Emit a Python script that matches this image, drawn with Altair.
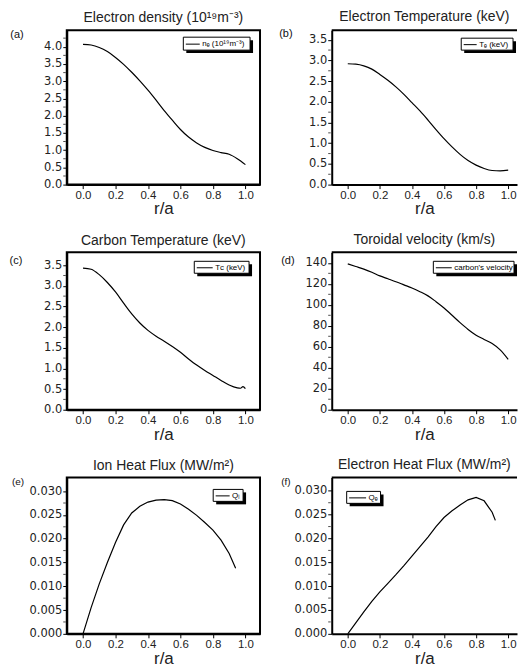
import math
import altair as alt
import pandas as pd

# ---- data ----
r_prof = [0.0, 0.05, 0.1, 0.15, 0.2, 0.25, 0.3, 0.35, 0.4, 0.45, 0.5,
          0.55, 0.6, 0.65, 0.7, 0.75, 0.8, 0.85, 0.9, 0.95, 1.0]
n_e = [4.07, 4.05, 3.98, 3.86, 3.69, 3.49, 3.26, 3.01, 2.74, 2.45, 2.15,
       1.87, 1.60, 1.38, 1.21, 1.08, 0.99, 0.93, 0.88, 0.75, 0.58]
T_e = [2.92, 2.91, 2.87, 2.79, 2.66, 2.52, 2.36, 2.18, 1.98, 1.78, 1.56,
       1.33, 1.11, 0.91, 0.73, 0.58, 0.47, 0.39, 0.34, 0.33, 0.35]

r_tc = [0.0, 0.05, 0.1, 0.15, 0.2, 0.25, 0.3, 0.35, 0.4, 0.45, 0.5,
        0.55, 0.6, 0.65, 0.7, 0.75, 0.8, 0.85, 0.9, 0.95, 0.97, 0.985, 1.0]
T_c = [3.43, 3.40, 3.27, 3.08, 2.85, 2.58, 2.32, 2.10, 1.92, 1.78, 1.66,
       1.53, 1.39, 1.23, 1.08, 0.95, 0.83, 0.71, 0.60, 0.53, 0.52, 0.56, 0.51]

v_tor = [139, 136.5, 134, 131, 127.6, 124.8, 122, 119, 116, 112.5, 108.5,
         103, 97, 90, 83, 76.5, 71, 67, 63, 57, 48]

r_qi = [0.0, 0.05, 0.1, 0.15, 0.2, 0.25, 0.3, 0.35, 0.4, 0.45, 0.5,
        0.55, 0.6, 0.65, 0.7, 0.75, 0.8, 0.85, 0.9, 0.94]
Q_i = [0.0, 0.0055, 0.0105, 0.0150, 0.0192, 0.0229, 0.0254, 0.0268, 0.0277, 0.0281, 0.0282,
       0.0280, 0.0273, 0.0262, 0.0249, 0.0234, 0.0218, 0.0197, 0.0169, 0.0138]

r_qe = [0.0, 0.05, 0.1, 0.15, 0.2, 0.25, 0.3, 0.35, 0.4, 0.45, 0.5,
        0.55, 0.6, 0.65, 0.7, 0.75, 0.8, 0.85, 0.9, 0.92]
Q_e = [0.0, 0.0023, 0.0046, 0.0068, 0.0088, 0.0106, 0.0124, 0.0143, 0.0163, 0.0183, 0.0203,
       0.0225, 0.0244, 0.0258, 0.0270, 0.0281, 0.0286, 0.0279, 0.0255, 0.0238]

x_ticks = [0.0, 0.2, 0.4, 0.6, 0.8, 1.0]
y_ticks_a = [0.0, 0.5, 1.0, 1.5, 2.0, 2.5, 3.0, 3.5, 4.0]
y_minor_a = [0.25, 0.75, 1.25, 1.75, 2.25, 2.75, 3.25, 3.75, 4.25]
y_ticks_bc = [0.0, 0.5, 1.0, 1.5, 2.0, 2.5, 3.0, 3.5]
y_minor_bc = [0.25, 0.75, 1.25, 1.75, 2.25, 2.75, 3.25]
y_ticks_d = [0, 20, 40, 60, 80, 100, 120, 140]
y_minor_d = [10, 30, 50, 70, 90, 110, 130]
y_ticks_ef = [0.0, 0.005, 0.010, 0.015, 0.020, 0.025, 0.030]
y_minor_ef = [0.0025, 0.0075, 0.0125, 0.0175, 0.0225, 0.0275]

LEFT_W, RIGHT_W = 194, 186
LEFT_X, RIGHT_X = [-0.1, 1.09], [-0.1, 1.055]


def panel(r, vals, name, title, ydom, yticks, yminor, yfmt, xdom, width, height,
          tag, tag_xy, tag_size, box, sym_size, right, interp):
    df = pd.DataFrame({"r": r, "v": vals, "series": [name] * len(r)})
    bx, by, bw, bh = box
    sym_len = math.sqrt(sym_size)
    yscale = alt.Scale(domain=ydom, nice=False, zero=False)
    yaxis = alt.Axis(values=yticks, format=yfmt, labelFlush=False)
    line = alt.Chart(df).mark_line(strokeWidth=1.2, clip=True, interpolate=interp).encode(
        x=alt.X("r:Q", title="r/a",
                scale=alt.Scale(domain=xdom, nice=False, zero=False),
                axis=alt.Axis(values=x_ticks, format=".1f", labelFlush=False)),
        y=alt.Y("v:Q", title=None, scale=yscale, axis=yaxis),
        color=alt.Color("series:N", scale=alt.Scale(range=["black"]),
                        legend=alt.Legend(orient="none", legendX=bx + 2,
                                          legendY=by + bh / 2 - sym_len / 2,
                                          title=None, padding=0, symbolType="stroke",
                                          symbolSize=sym_size, symbolStrokeWidth=1,
                                          labelFontSize=8, labelFont="Liberation Sans",
                                          labelOffset=2, labelColor="black")),
    )
    one = pd.DataFrame({"k": [0]})
    minor = alt.Chart(pd.DataFrame({"m": yminor})).mark_tick(
        orient="horizontal", size=2.5, thickness=1, color="black", clip=False).encode(
        y=alt.Y("m:Q", title=None, scale=yscale, axis=yaxis), x=alt.value(-2.3))
    shadow = alt.Chart(one).mark_rect(color="black").encode(
        x=alt.value(bx + 3), x2=alt.value(bx + 3 + bw),
        y=alt.value(by + 3), y2=alt.value(by + 3 + bh))
    frame = alt.Chart(one).mark_rect(fill="white", stroke="black", strokeWidth=1).encode(
        x=alt.value(bx), x2=alt.value(bx + bw),
        y=alt.value(by), y2=alt.value(by + bh))
    tag_layer = alt.Chart(pd.DataFrame({"tag": [tag]})).mark_text(
        fontSize=tag_size, align="center", baseline="middle", color="#111",
        font="Liberation Sans").encode(
        text="tag:N", x=alt.value(tag_xy[0]), y=alt.value(tag_xy[1]))
    layers = [line, minor, shadow, frame, tag_layer]
    if right:
        top = alt.Chart(one).mark_rule(color="black", strokeWidth=2).encode(
            x=alt.value(0), x2=alt.value(width), y=alt.value(0))
        layers.append(top)
    ch = alt.layer(*layers).properties(width=width, height=height, title=title)
    if right:
        ch = ch.properties(view=alt.ViewBackground(stroke="transparent"))
    return ch


pa = panel(r_prof, n_e, "nₑ (10¹⁹m⁻³)", "Electron density (10¹⁹m⁻³)", [0, 4.48], y_ticks_a, y_minor_a, ".1f",
           LEFT_X, LEFT_W, 155, "(a)", (-50, 5), 11, (117, 7, 67, 13), 196, False, "monotone")
pb = panel(r_prof, T_e, "Tₑ (keV)", "Electron Temperature (keV)", [0, 3.73], y_ticks_bc, y_minor_bc, ".1f",
           RIGHT_X, RIGHT_W, 155, "(b)", (-46, 4), 11, (130, 8, 52, 12), 169, True, "monotone")
pc = panel(r_tc, T_c, "Tᴄ (keV)", "Carbon Temperature (keV)", [0, 3.81], y_ticks_bc, y_minor_bc, ".1f",
           LEFT_X, LEFT_W, 158, "(c)", (-51, 9), 11, (128, 9, 55, 12), 256, False, "monotone")
pd_ = panel(r_prof, v_tor, "carbon's velocity", "Toroidal velocity (km/s)", [0, 150], y_ticks_d, y_minor_d, "d",
            RIGHT_X, RIGHT_W, 158, "(d)", (-44, 9), 11, (102, 9, 81, 12), 256, True, "monotone")
pe = panel(r_qi, Q_i, "Qᵢ", "Ion Heat Flux (MW/m²)", [0, 0.03287], y_ticks_ef, y_minor_ef, ".3f",
           LEFT_X, LEFT_W, 157, "(e)", (-49, 5), 10, (147, 12, 30, 12), 196, False, "linear")
pf = panel(r_qe, Q_e, "Qₑ", "Electron Heat Flux (MW/m²)", [0, 0.0328], y_ticks_ef, y_minor_ef, ".3f",
           RIGHT_X, RIGHT_W, 157, "(f)", (-46, 5), 10, (15, 14, 34, 12), 289, True, "linear")

chart = alt.concat(pa, pb, pc, pd_, pe, pf, columns=2,
                   spacing=alt.RowColnumber(row=14, column=17)).resolve_scale(
    x="independent", y="independent", color="independent").resolve_legend(
    color="independent").properties(padding=0).configure(
    font="Liberation Sans").configure_view(
    stroke="black", strokeWidth=2).configure_axis(
    domainColor="black", domainWidth=2, tickColor="black", tickSize=4, tickWidth=1,
    labelColor="#222", grid=False, labelPadding=1, titleFontSize=17,
    titleFontWeight="normal", titleColor="#222", titlePadding=0,
    titleFont="Liberation Sans").configure_axisX(
    labelFont="Liberation Sans", labelFontSize=11.5).configure_axisY(
    labelFont="DejaVu Sans", labelFontSize=11.5).configure_title(
    fontSize=14, font="Liberation Sans", fontWeight="normal", color="#222",
    offset=4, anchor="middle")

chart.save("out.html", embed_options={"renderer": "svg", "actions": False})
